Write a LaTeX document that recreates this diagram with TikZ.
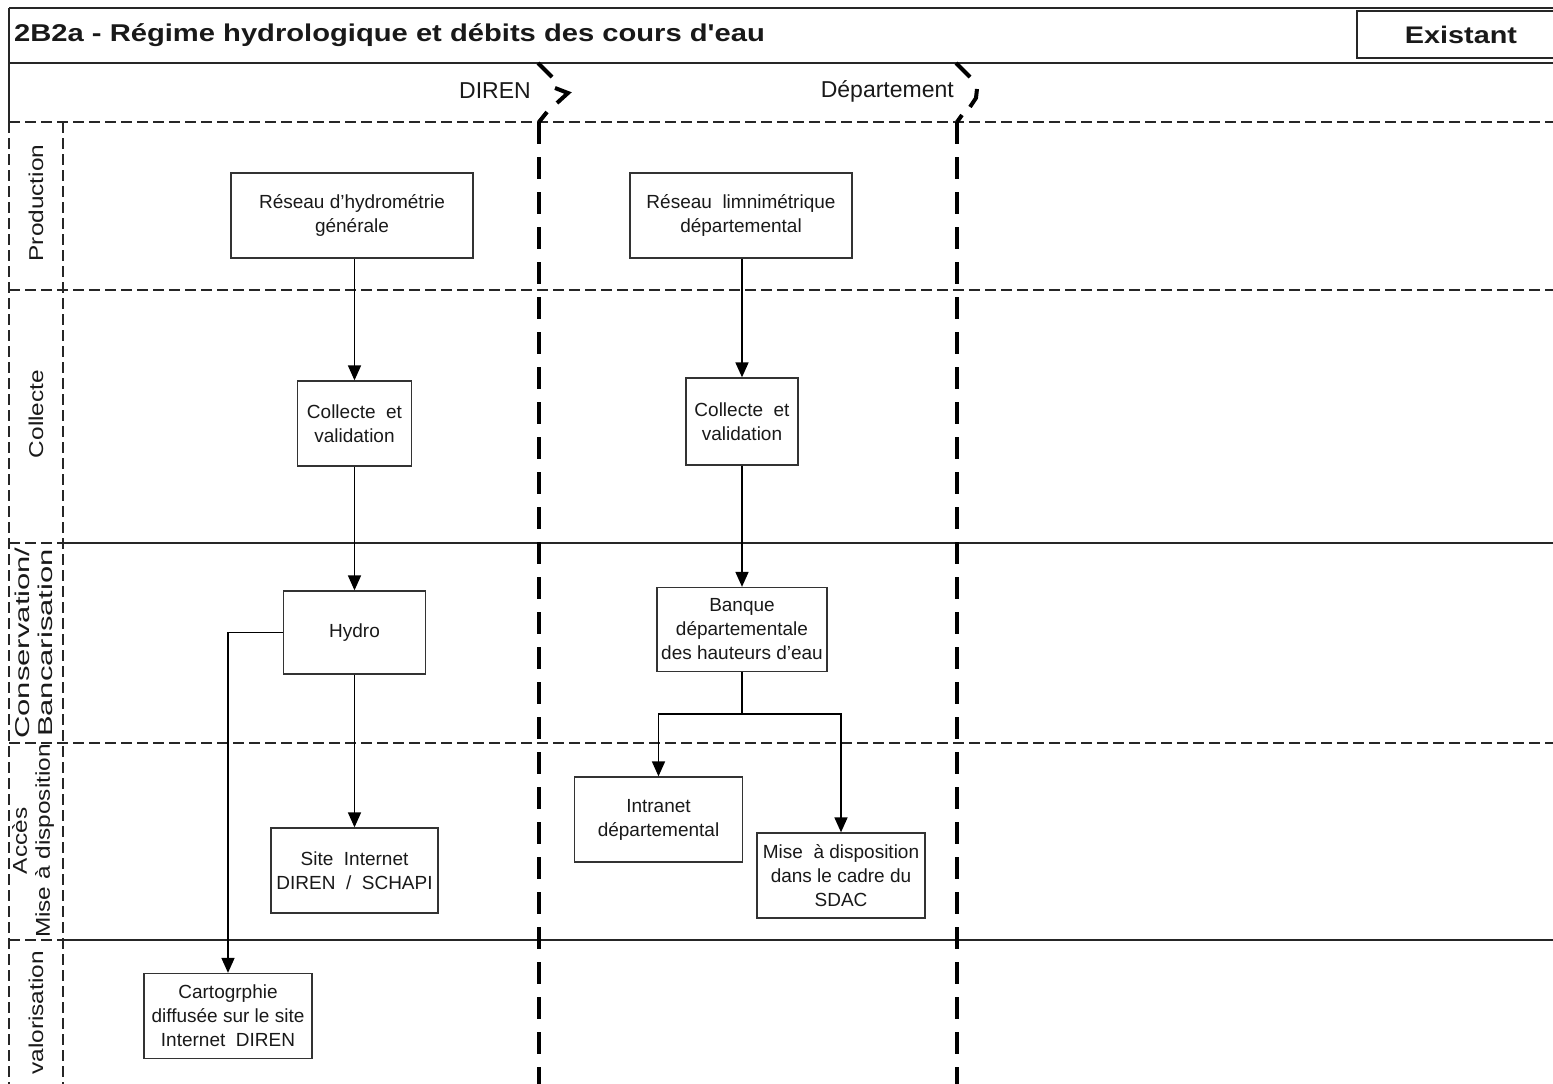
\documentclass[tikz,border=0pt]{standalone}
\usepackage{fontspec}
\setmainfont{Liberation Sans}
\newfontfamily\stretchfont[FakeStretch=1.22]{Liberation Sans}
\newfontfamily\widefont[FakeStretch=1.55]{Liberation Sans}
\newfontfamily\titlefont[FakeStretch=1.2]{Liberation Sans}
\newcommand{\sq}{{\char"27}}
\usetikzlibrary{arrows.meta}

\begin{document}
\begin{tikzpicture}[x=1pt,y=-1pt,
  box/.style={draw=black!80, line width=1.3pt, align=center, inner sep=2pt,
    font=\fontsize{19}{24}\selectfont, text=black!90},
  flow/.style={line width=1.7pt, -{Triangle[length=15pt,width=13pt]}},
  link/.style={line width=1.7pt},
  frame/.style={line width=1.5pt, draw=black!85},
  thindash/.style={line width=1.5pt, draw=black!85, dash pattern=on 11pt off 5pt},
  thickdash/.style={line width=4.3pt, draw=black, dash pattern=on 22pt off 13pt},
  chev/.style={line width=4pt, line cap=butt},
  lanelabel/.style={rotate=90, align=center, inner sep=0pt, text=black!90,
    font=\stretchfont\fontsize{20}{23}\selectfont},
  widelabel/.style={rotate=90, align=center, inner sep=0pt, text=black!90,
    font=\widefont\fontsize{20}{23}\selectfont},
  headtext/.style={anchor=east, inner sep=0pt, text=black!90, font=\fontsize{23}{26}\selectfont},
]
\useasboundingbox (0,0) rectangle (1553,1084);
\clip (0,0) rectangle (1553,1084);

% frame
\draw[frame] (9,8) -- (1565,8);
\draw[frame] (9,8) -- (9,122);
\draw[frame] (9,63) -- (1565,63);
\draw[thindash] (9,122) -- (1565,122);
\draw[thindash] (9,122) -- (9,1095);
\draw[thindash] (63,122) -- (63,1095);
\draw[thindash] (9,290) -- (1565,290);
\draw[thindash] (9,543) -- (63,543);
\draw[frame] (63,543) -- (1565,543);
\draw[thindash] (9,743) -- (1565,743);
\draw[thindash] (9,940) -- (63,940);
\draw[frame] (63,940) -- (1565,940);

% column separators
\draw[thickdash] (539,122) -- (539,1095);
\draw[thickdash] (957,122) -- (957,1095);
\draw[chev] (538,63) -- (552,77);
\draw[chev] (555,88) -- (568,93) -- (557,103);
\draw[chev] (547,112) -- (539,122);
\draw[chev] (956,63) -- (970,77);
\draw[chev] (977,89) -- (976,98) -- (970,107);
\draw[chev] (962,115) -- (957,122);

% title bar
\node[anchor=west, inner sep=0pt, text=black!90, font=\titlefont\bfseries\fontsize{24.3}{28}\selectfont]
  (title) at (14,35) {2B2a - Régime hydrologique et débits des cours d\sq eau};
\node[draw=black!85, line width=1.3pt, minimum width=208pt, minimum height=47pt, inner sep=0pt,
  text=black!90, font=\titlefont\bfseries\fontsize{24}{28}\selectfont]
  (ex) at (1461,34.5) {Existant};

% column headers
\node[headtext] (hdiren) at (531,91) {DIREN};
\node[headtext] (hdep) at (954,91) {Département};

% lane labels
\node[lanelabel] (lprod) at (36,203) {Production};
\node[lanelabel] (lcoll) at (36,414) {Collecte};
\node[widelabel] (lcons) at (34,643) {Conservation/\\Bancarisation};
\node[lanelabel] (lacc) at (33,841) {Accès\\Mise à disposition};
\node[lanelabel] (lval) at (36,1013) {valorisation};

% nodes
\node[box, minimum width=242pt, minimum height=85pt] (rh) at (352,215.5) {Réseau d\sq hydrométrie\\générale};
\node[box, minimum width=222pt, minimum height=85pt] (rl) at (741,215.5) {Réseau\ \ limnimétrique\\départemental};
\node[box, minimum width=114pt, minimum height=85pt] (c1) at (354.5,423.5) {Collecte\ \ et\\validation};
\node[box, minimum width=112pt, minimum height=87pt] (c2) at (742,421.5) {Collecte\ \ et\\validation};
\node[box, minimum width=142pt, minimum height=83pt] (hy) at (354.5,632.5) {Hydro};
\node[box, minimum width=170pt, minimum height=84pt] (bq) at (742,629.5) {Banque\\départementale\\des hauteurs d\sq eau};
\node[box, minimum width=168pt, minimum height=85pt] (in) at (658.5,819.5) {Intranet\\départemental};
\node[box, minimum width=168pt, minimum height=85pt] (md) at (841,875.5) {Mise\ \ à disposition\\dans le cadre du\\SDAC};
\node[box, minimum width=167pt, minimum height=85pt] (si) at (354.5,870.5) {Site\ \ Internet\\DIREN\ \ /\ \ SCHAPI};
\node[box, minimum width=168pt, minimum height=85pt] (ca) at (228,1016) {Cartogrphie\\diffusée sur le site\\Internet\ \ DIREN};

% connectors
\draw[flow] (rh.south -| c1) -- (c1.north);
\draw[flow] (c1.south) -- (hy.north);
\draw[flow] (hy.south) -- (si.north);
\draw[flow] (hy.west) -| (ca.north);
\draw[flow] (rl.south -| c2) -- (c2.north);
\draw[flow] (c2.south) -- (bq.north);
\coordinate (br) at (742,714);
\draw[link] (bq.south) -- (br);
\draw[flow] (br) -| (in.north);
\draw[flow] (br) -| (md.north);
\end{tikzpicture}
\end{document}
